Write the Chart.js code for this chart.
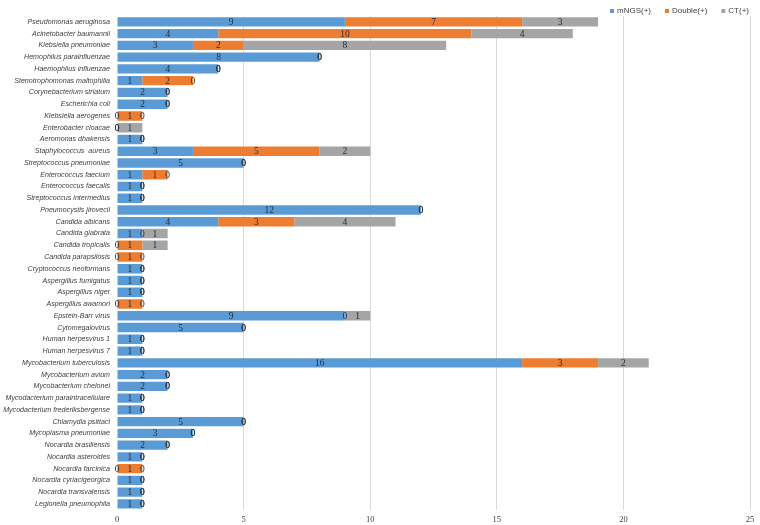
<!DOCTYPE html>
<html>
<head>
<meta charset="utf-8">
<script src="https://cdn.jsdelivr.net/npm/chart.js@4"></script>
<style>
  html, body { margin: 0; padding: 0; background: #fff; overflow: hidden; }
  #wrap { width: 760px; height: 525px; }
</style>
</head>
<body>
<div id="wrap"><canvas id="myChart"></canvas></div>
<script>
const categories = [
  'Pseudomonas aeruginosa', 'Acinetobacter baumannii', 'Klebsiella pneumoniae',
  'Hemophilus parainfluenzae', 'Haemophilus influenzae', 'Stenotrophomonas maltophilia',
  'Corynebacterium striatum', 'Escherichia coli', 'Klebsiella aerogenes',
  'Enterobacter cloacae', 'Aeromonas dhakensis', 'Staphylococcus  aureus',
  'Streptococcus pneumoniae', 'Enterococcus faecium', 'Enterococcus faecalis',
  'Streptococcus intermedius', 'Pneumocystis jirovecii', 'Candida albicans',
  'Candida glabrata', 'Candida tropicalis', 'Candida parapsilosis',
  'Cryptococcus neoformans', 'Aspergillus fumigatus', 'Aspergillus niger',
  'Aspergillus awamori', 'Epstein-Barr virus', 'Cytomegalovirus',
  'Human herpesvirus 1', 'Human herpesvirus 7', 'Mycobacterium tuberculosis',
  'Mycobacterium avium', 'Mycobacterium chelonei', 'Mycodacterium paraintracellulare',
  'Mycodacterium frederiksbergense', 'Chlamydia psittaci', 'Mycoplasma pneumoniae',
  'Nocardia brasiliensis', 'Nocardia asteroides', 'Nocardia farcinica',
  'Nocardia cyriacigeorgica', 'Nocardia transvalensis', 'Legionella pneumophila'
];
const mngs   = [9, 4, 3, 8, 4, 1, 2, 2, 0, 0, 1, 3, 5, 1, 1, 1, 12, 4, 1, 0, 0, 1, 1, 1, 0, 9, 5, 1, 1, 16, 2, 2, 1, 1, 5, 3, 2, 1, 0, 1, 1, 1];
const double = [7, 10, 2, 0, 0, 2, 0, 0, 1, 0, 0, 5, 0, 1, 0, 0, 0, 3, 0, 1, 1, 0, 0, 0, 1, 0, 0, 0, 0, 3, 0, 0, 0, 0, 0, 0, 0, 0, 1, 0, 0, 0];
const ct     = [3, 4, 8, 0, 0, 0, 0, 0, 0, 1, 0, 2, 0, 0, 0, 0, 0, 4, 1, 1, 0, 0, 0, 0, 0, 1, 0, 0, 0, 2, 0, 0, 0, 0, 0, 0, 0, 0, 0, 0, 0, 0];
const xTicks = [0, 5, 10, 15, 20, 25];

// value labels in the middle of every segment, zeros included
const segmentLabels = {
  id: 'segmentLabels',
  afterDatasetsDraw(chart) {
    const ctx = chart.ctx;
    ctx.save();
    ctx.font = '9.5px "Liberation Serif", serif';
    ctx.fillStyle = '#1f2a3a';
    ctx.textAlign = 'center';
    ctx.textBaseline = 'middle';
    chart.data.datasets.forEach((ds, i) => {
      chart.getDatasetMeta(i).data.forEach((bar, j) => {
        const cx = (bar.x + bar.base) / 2;
        ctx.fillText(String(ds.data[j]), cx, bar.y + 0.5);
      });
    });
    ctx.restore();
  }
};

// small legend in the top right corner, right-aligned
const cornerLegend = {
  id: 'cornerLegend',
  afterDraw(chart) {
    const ctx = chart.ctx;
    ctx.save();
    ctx.font = '8px "Liberation Sans", Arial, sans-serif';
    ctx.textBaseline = 'middle';
    ctx.textAlign = 'left';
    let x = 749;
    const y = 11;
    const items = chart.data.datasets.slice().reverse();
    items.forEach(ds => {
      const w = ctx.measureText(ds.label).width;
      const tx = x - w;
      ctx.fillStyle = '#404040';
      ctx.fillText(ds.label, tx, y);
      ctx.fillStyle = ds.backgroundColor;
      ctx.fillRect(tx - 7, y - 2, 4, 4);
      x = tx - 7 - 14;
    });
    ctx.restore();
  }
};

let myChart = document.getElementById('myChart').getContext('2d');

let barChart = new Chart(myChart, {
  type: 'bar',
  data: {
    labels: categories,
    datasets: [
      { label: 'mNGS(+)', data: mngs, backgroundColor: '#5B9BD5' },
      { label: 'Double(+)', data: double, backgroundColor: '#ED7D31' },
      { label: 'CT(+)', data: ct, backgroundColor: '#A5A5A5' }
    ]
  },
  options: {
    indexAxis: 'y',
    responsive: true,
    maintainAspectRatio: false,
    animation: false,
    datasets: { bar: { barPercentage: 0.8, categoryPercentage: 1 } },
    layout: { padding: { top: 16, right: 10, left: 0, bottom: -5 } },
    plugins: {
      legend: { display: false },
      tooltip: { enabled: false }
    },
    scales: {
      x: {
        stacked: true,
        min: 0,
        max: 25,
        afterBuildTicks(scale) { scale.ticks = xTicks.map(v => ({ value: v })); },
        grid: {
          color: ctx => (ctx.tick && ctx.tick.value === 0 ? 'rgba(0,0,0,0)' : '#d9d9d9'),
          drawTicks: false
        },
        border: { display: false },
        ticks: {
          padding: 5,
          color: '#404040',
          font: { family: '"Liberation Serif", serif', size: 8.5 }
        }
      },
      y: {
        stacked: true,
        afterFit(scale) { scale.width = 117; },
        grid: { display: false, drawTicks: false },
        border: { display: false },
        ticks: {
          autoSkip: false,
          padding: 7,
          color: '#404040',
          font: { family: '"Liberation Sans", Arial, sans-serif', size: 7.1, style: 'italic' }
        }
      }
    }
  },
  plugins: [segmentLabels, cornerLegend]
});
</script>
</body>
</html>
